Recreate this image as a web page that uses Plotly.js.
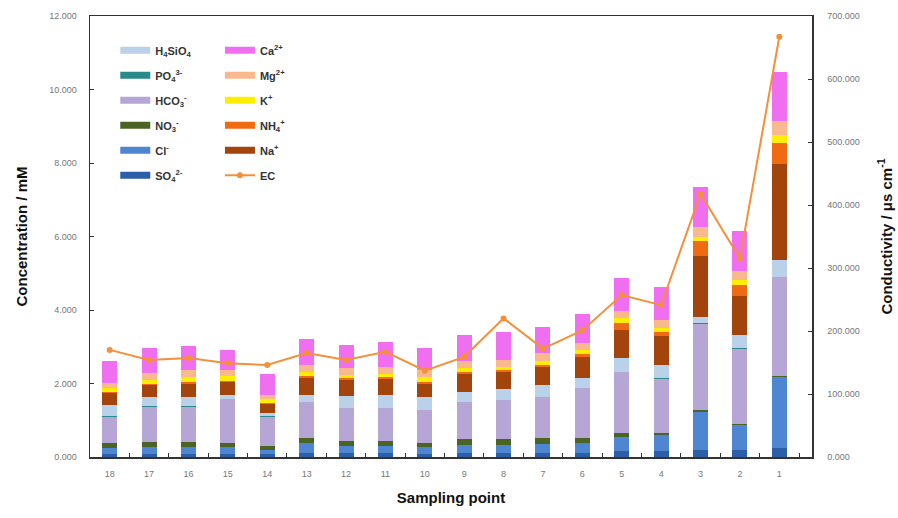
<!DOCTYPE html>
<html>
<head>
<meta charset="utf-8">
<script src="https://cdn.plot.ly/plotly-3.0.1.min.js"></script>
<style>
  html, body { margin: 0; padding: 0; background: #ffffff; }
  #chart { width: 898px; height: 518px; }
</style>
</head>
<body>
<div id="chart"></div>
<script>
// Sampling points, listed left to right
const points = ['18','17','16','15','14','13','12','11','10','9','8','7','6','5','4','3','2','1'];

// Ion concentrations (mM), stacked from the bottom up
const so4    = [0.08,0.09,0.09,0.09,0.07,0.12,0.10,0.10,0.09,0.11,0.11,0.12,0.12,0.15,0.16,0.20,0.18,0.25];
const cl     = [0.16,0.19,0.19,0.19,0.12,0.25,0.21,0.21,0.19,0.22,0.22,0.23,0.26,0.40,0.44,1.03,0.69,1.94];
const no3    = [0.13,0.12,0.14,0.11,0.11,0.14,0.13,0.13,0.11,0.15,0.15,0.16,0.13,0.10,0.05,0.04,0.03,0.02];
const hco3   = [0.73,0.97,0.95,1.18,0.80,0.99,0.88,0.89,0.88,1.02,1.06,1.12,1.36,1.66,1.48,2.36,2.05,2.69];
const po4    = [0.01,0.01,0.01,0.01,0.01,0.01,0.01,0.01,0.01,0.01,0.01,0.01,0.01,0.01,0.01,0.01,0.01,0.01];
const h4sio4 = [0.31,0.26,0.26,0.12,0.09,0.17,0.33,0.35,0.35,0.27,0.31,0.32,0.27,0.37,0.37,0.18,0.36,0.46];
const na     = [0.32,0.31,0.36,0.33,0.24,0.47,0.44,0.43,0.37,0.49,0.45,0.50,0.58,0.77,0.77,1.64,1.05,2.59];
const nh4    = [0.04,0.05,0.05,0.05,0.04,0.05,0.05,0.05,0.05,0.05,0.05,0.05,0.08,0.18,0.11,0.41,0.32,0.59];
const k      = [0.09,0.09,0.14,0.12,0.10,0.11,0.09,0.09,0.14,0.10,0.09,0.11,0.11,0.14,0.12,0.13,0.13,0.20];
const mg     = [0.14,0.19,0.18,0.17,0.11,0.19,0.19,0.19,0.18,0.18,0.18,0.21,0.19,0.18,0.22,0.27,0.23,0.39];
const ca     = [0.59,0.68,0.64,0.55,0.57,0.70,0.63,0.68,0.59,0.72,0.77,0.70,0.79,0.91,0.89,1.08,1.09,1.33];

// Electrical conductivity (µs/cm)
const ec = [170,154,157,149,146,165,154,167,137,159,220,172,201,257,241,418,315,667];

// Series definitions: name, values, colour, legend box and rank
const series = [
  {name: 'SO<sub>4</sub><sup>2-</sup>',    y: so4,    color: '#2d5ea8', legend: 'legend',  rank: 6},
  {name: 'Cl<sup>-</sup>',                 y: cl,     color: '#4f86d2', legend: 'legend',  rank: 5},
  {name: 'NO<sub>3</sub><sup>-</sup>',     y: no3,    color: '#4b6424', legend: 'legend',  rank: 4},
  {name: 'HCO<sub>3</sub><sup>-</sup>',    y: hco3,   color: '#b6a6d6', legend: 'legend',  rank: 3},
  {name: 'PO<sub>4</sub><sup>3-</sup>',    y: po4,    color: '#2a8a8a', legend: 'legend',  rank: 2},
  {name: 'H<sub>4</sub>SiO<sub>4</sub>',   y: h4sio4, color: '#b9d2ea', legend: 'legend',  rank: 1},
  {name: 'Na<sup>+</sup>',                 y: na,     color: '#a3440c', legend: 'legend2', rank: 5},
  {name: 'NH<sub>4</sub><sup>+</sup>',     y: nh4,    color: '#f06a12', legend: 'legend2', rank: 4},
  {name: 'K<sup>+</sup>',                  y: k,      color: '#ffee00', legend: 'legend2', rank: 3},
  {name: 'Mg<sup>2+</sup>',                y: mg,     color: '#f9b88e', legend: 'legend2', rank: 2},
  {name: 'Ca<sup>2+</sup>',                y: ca,     color: '#f06ef0', legend: 'legend2', rank: 1}
];

const traces = [];

// Stacked bars
series.forEach(s => {
  traces.push({
    type: 'bar', x: points, y: s.y, name: s.name,
    marker: {color: s.color, line: {width: 0}},
    width: 0.38, showlegend: false, hoverinfo: 'name+y'
  });
});

// Legend keys drawn as short thick strokes
series.forEach(s => {
  traces.push({
    type: 'scatter', mode: 'lines', x: [null], y: [null], name: s.name,
    line: {color: s.color, width: 7},
    legend: s.legend, legendrank: s.rank, legendgroup: 'g_' + s.rank + s.legend,
    hoverinfo: 'skip'
  });
});

// Conductivity line on the secondary axis
traces.push({
  type: 'scatter', mode: 'lines+markers', x: points, y: ec, name: 'EC',
  yaxis: 'y2',
  line: {color: '#f4903a', width: 2},
  marker: {color: '#f4903a', size: 6, symbol: 'circle'},
  legend: 'legend2', legendrank: 6, legendgroup: 'g_ec'
});

const axisFont = {family: 'Arial, "Liberation Sans", sans-serif', size: 9, color: '#777777'};
const titleFont = {family: 'Arial, "Liberation Sans", sans-serif', size: 15, color: '#111111', weight: 'bold'};
const legendFont = {family: 'Arial, "Liberation Sans", sans-serif', size: 11, color: '#333333', weight: 'bold'};

const layout = {
  width: 898, height: 518,
  margin: {l: 90, r: 86, t: 16, b: 61},
  paper_bgcolor: '#ffffff', plot_bgcolor: '#ffffff',
  barmode: 'stack',
  bargap: 0.62,
  xaxis: {
    type: 'category', range: [-0.5, 17.83],
    tickson: 'boundaries', ticks: 'inside', ticklen: 4, tickcolor: '#333',
    showline: true, linecolor: '#333333', linewidth: 1.5, mirror: true,
    showgrid: false, zeroline: false,
    tickfont: axisFont, ticklabelstandoff: 8,
    title: {text: 'Sampling point', font: titleFont, standoff: 14}
  },
  yaxis: {
    range: [0, 12], dtick: 2, tickformat: '.3f',
    ticks: 'inside', ticklen: 4, tickcolor: '#333',
    showline: true, linecolor: '#333333', linewidth: 1.5,
    showgrid: false, zeroline: false,
    tickfont: axisFont, ticklabelstandoff: 10,
    title: {text: 'Concentration / mM', font: titleFont, standoff: 18}
  },
  yaxis2: {
    overlaying: 'y', side: 'right',
    range: [0, 700], dtick: 100, tickformat: '.3f',
    ticks: 'inside', ticklen: 4, tickcolor: '#333',
    showline: true, linecolor: '#333333', linewidth: 1.5,
    showgrid: false, zeroline: false,
    tickfont: axisFont, ticklabelstandoff: 12,
    title: {text: 'Conductivity / μs cm<sup>-1</sup>', font: titleFont, standoff: 22}
  },
  legend: {
    x: 0.035, y: 0.955, xanchor: 'left', yanchor: 'top',
    bgcolor: 'rgba(0,0,0,0)', font: legendFont,
    traceorder: 'grouped', tracegroupgap: 6, itemwidth: 30
  },
  legend2: {
    x: 0.18, y: 0.955, xanchor: 'left', yanchor: 'top',
    bgcolor: 'rgba(0,0,0,0)', font: legendFont,
    traceorder: 'grouped', tracegroupgap: 6, itemwidth: 30
  },
  showlegend: true
};

Plotly.newPlot('chart', traces, layout, {displayModeBar: false, staticPlot: true});
</script>
</body>
</html>
